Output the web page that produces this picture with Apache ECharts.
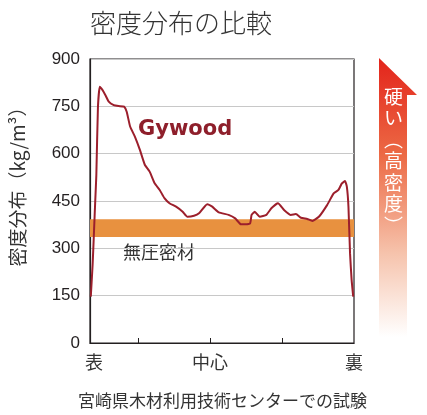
<!DOCTYPE html>
<html>
<head>
<meta charset="utf-8">
<script src="https://cdn.jsdelivr.net/npm/echarts@6/dist/echarts.min.js"></script>
<style>
  html, body { margin: 0; padding: 0; background: #fff; }
  #chartsDom { width: 427px; height: 415px; }
</style>
</head>
<body>
<div id="chartsDom"></div>
<script>
// 位置（表=0, 裏=100）
var position = [0.3, 1.0, 1.5, 2.0, 2.4, 3.0, 3.7, 4.7, 5.8, 7.1, 9.0, 10.8, 12.9, 13.9, 15.2, 17.0,
  18.9, 20.8, 22.6, 24.5, 26.4, 28.2, 30.1, 32.6, 35.1, 36.9, 39.4, 41.3, 44.4, 46.3, 48.8,
  52.5, 55.0, 57.2, 60.6, 61.2, 62.4, 64.3, 66.8, 68.7, 71.2, 73.6, 76.1, 78.0, 79.9, 82.3,
  84.2, 86.7, 89.8, 92.3, 94.1, 95.4, 96.6, 97.3, 97.9, 98.5, 99.1, 99.7];
// 密度 (kg/m3)
var density = [147, 250, 350, 453, 532, 745, 812, 802, 786, 765, 754, 751, 749, 733, 686, 654,
  612, 564, 543, 506, 485, 459, 443, 432, 416, 400, 403, 411, 440, 432, 414,
  406, 395, 376, 379, 406, 416, 400, 406, 427, 443, 421, 406, 409, 397, 393,
  387, 400, 437, 474, 485, 506, 513, 495, 432, 284, 200, 147];
// 無圧密材の範囲
var bandRange = [336, 392];
var xTicks = [18.3, 45.5, 72.8];
var xLabelPos = [1.5, 45.5, 100];
var xLabels = ["表", "中心", "裏"];

var jp = "'Noto Sans CJK JP', 'Noto Sans', sans-serif";
var num = "'Liberation Sans', 'Noto Sans CJK JP', sans-serif";

var myChart = echarts.init(document.getElementById("chartsDom"));

var option = {
  animation: false,
  title: {
    text: "密度分布の比較",
    left: 85,
    top: 5,
    textStyle: { fontFamily: jp, fontSize: 26, fontWeight: 300, color: "#333" }
  },
  grid: {
    left: 86,
    right: 73,
    top: 59,
    bottom: 72,
    show: true,
    borderColor: "#231f20",
    borderWidth: 1.2
  },
  xAxis: {
    type: "value",
    min: 0,
    max: 100,
    axisLine: { lineStyle: { color: "#231f20", width: 1.2 } },
    axisTick: { inside: true, length: 5, customValues: xTicks, lineStyle: { color: "#231f20" } },
    splitLine: { show: false },
    axisLabel: {
      customValues: xLabelPos,
      margin: 10,
      fontFamily: jp,
      fontSize: 18,
      color: "#333",
      formatter: function (v) {
        var i = 0;
        for (var k = 1; k < xLabelPos.length; k++) {
          if (Math.abs(xLabelPos[k] - v) < Math.abs(xLabelPos[i] - v)) i = k;
        }
        return xLabels[i];
      }
    }
  },
  yAxis: {
    type: "value",
    min: 0,
    max: 900,
    interval: 150,
    name: "密度分布（kg/m³）",
    nameLocation: "middle",
    nameGap: 63,
    nameTextStyle: { fontFamily: jp, fontSize: 19, color: "#333", padding: [0, 0, 0, 38] },
    axisLine: { show: true, lineStyle: { color: "#231f20", width: 1.2 } },
    axisTick: { show: false },
    splitLine: { lineStyle: { color: "#c8c8c8", width: 1 } },
    axisLabel: { margin: 10, fontFamily: num, fontSize: 17, color: "#231f20" }
  },
  series: [
    {
      type: "line",
      data: position.map(function (x, i) { return [x, density[i]]; }),
      showSymbol: false,
      smooth: 0.15,
      lineStyle: { color: "#9c1f2c", width: 2 },
      z: 5,
      markArea: {
        silent: true,
        itemStyle: { color: "#e8913f" },
        data: [[{ yAxis: bandRange[0] }, { yAxis: bandRange[1] }]]
      }
    }
  ],
  graphic: [
    {
      type: "text",
      left: 138,
      top: 119,
      style: { text: "Gywood", fontFamily: "'DejaVu Sans', sans-serif", fontWeight: "bold", fontSize: 21, fill: "#8e1f2b" }
    },
    {
      type: "text",
      left: 123,
      top: 243,
      style: { text: "無圧密材", fontFamily: jp, fontSize: 18, fill: "#333" }
    },
    {
      type: "polygon",
      shape: { points: [[379, 58], [417, 95], [407, 95], [407, 337], [379, 337]] },
      style: {
        fill: new echarts.graphic.LinearGradient(0, 0, 0, 1, [
          { offset: 0, color: "#e3241b" },
          { offset: 0.35, color: "#ec6a45" },
          { offset: 0.7, color: "#f6c3ac" },
          { offset: 1, color: "#ffffff" }
        ])
      }
    },
    {
      type: "text",
      left: 384,
      top: 86,
      style: {
        text: "硬\nい\n︵\n高\n密\n度\n︶",
        fontFamily: jp,
        fontSize: 19,
        lineHeight: 21.5,
        fill: "#fff",
        align: "left"
      }
    },
    {
      type: "text",
      left: 78,
      top: 392,
      style: { text: "宮崎県木材利用技術センターでの試験", fontFamily: jp, fontSize: 17, fill: "#333" }
    }
  ]
};
option && myChart.setOption(option);
</script>
</body>
</html>
